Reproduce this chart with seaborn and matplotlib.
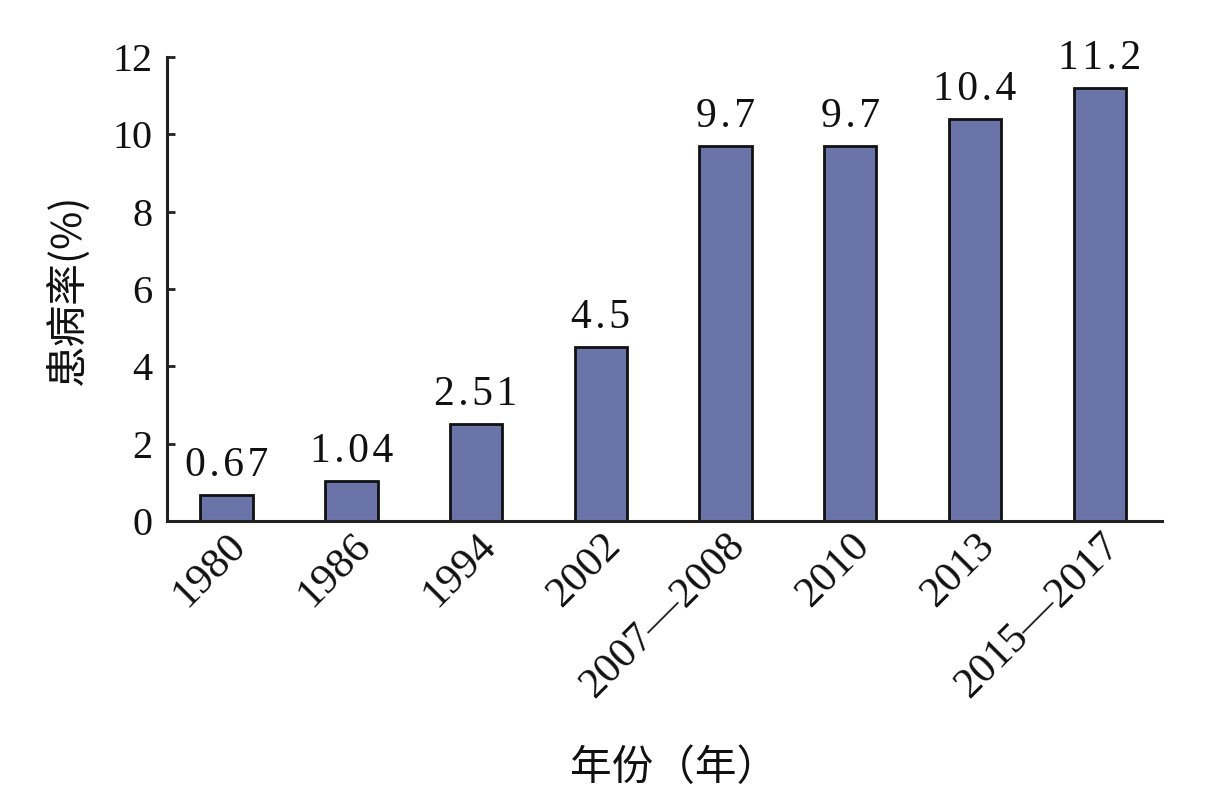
import matplotlib
matplotlib.use("Agg")
import matplotlib.pyplot as plt
import seaborn as sns
import pandas as pd

years = ["1980", "1986", "1994", "2002", "2007—2008", "2010", "2013", "2015—2017"]
rates = [0.67, 1.04, 2.51, 4.5, 9.7, 9.7, 10.4, 11.2]
value_labels = ["0.67", "1.04", "2.51", "4.5", "9.7", "9.7", "10.4", "11.2"]
yticks = [0, 2, 4, 6, 8, 10, 12]

sns.set_style("white")
plt.rcParams['font.family'] = ['Liberation Serif', 'Noto Sans CJK SC', 'DejaVu Sans']

df = pd.DataFrame({"year": years, "rate": rates})

fig = plt.figure(figsize=(12.08, 8.02), dpi=100)
ax = fig.add_axes([0.138, 0.3504, 0.824, 0.5786])

sns.barplot(data=df, x="year", y="rate", color="#6b74a8", saturation=1,
            width=0.42, edgecolor="#111111", linewidth=2.0, ax=ax)

spaced = ["\u200a".join(list(s)) for s in value_labels]
for cont in ax.containers:
    ax.bar_label(cont, labels=spaced, padding=7, fontsize=30, color="#111111")

ax.set_ylim(0, 12)
ax.set_xlim(-0.48, 7.5)
ax.set_yticks(yticks)
ax.set_yticklabels([str(t) for t in yticks], fontsize=29, color="#111111")
ax.tick_params(axis="y", direction="in", length=6, width=2, color="#222222", pad=10, left=True)
ax.tick_params(axis="x", length=0, pad=4)
ax.set_xticks(range(len(years)))
ax.set_xticklabels(years)
for lbl in ax.get_xticklabels():
    lbl.set_rotation(45)
    lbl.set_ha("right")
    lbl.set_rotation_mode("anchor")
    lbl.set_fontsize(31)
    lbl.set_color("#111111")

sns.despine(ax=ax)
for s in ["left", "bottom"]:
    ax.spines[s].set_linewidth(2.2)
    ax.spines[s].set_color("#222222")

ax.set_xlabel("年份（年）", fontsize=30, family=['Noto Sans CJK SC', 'DejaVu Sans'],
              color="#111111")
ax.set_ylabel("患病率(%)", fontsize=30, family=['Noto Sans CJK SC', 'DejaVu Sans'],
              color="#111111")
ax.xaxis.set_label_coords(0.51, -0.49)
ax.yaxis.set_label_coords(-0.078, 0.5)

fig.savefig("out.png", dpi=100, facecolor="white")
